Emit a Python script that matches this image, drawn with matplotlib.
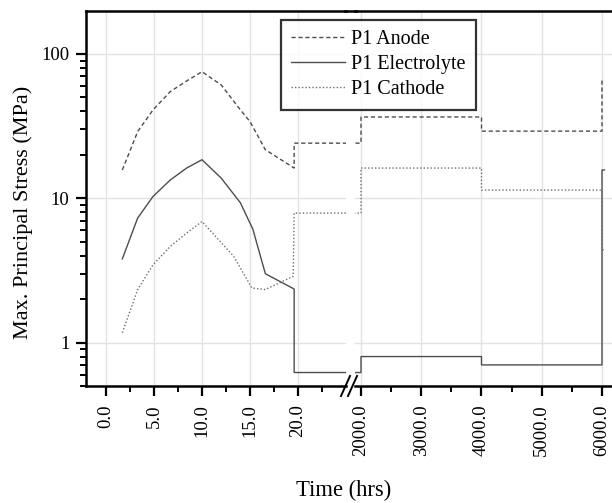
import matplotlib
matplotlib.use("Agg")
import matplotlib.pyplot as plt
from matplotlib.lines import Line2D
from matplotlib.ticker import FixedLocator, LogLocator, NullFormatter, FuncFormatter

plt.rcParams['font.family'] = ['Liberation Serif', 'DejaVu Serif']
plt.rcParams['font.size'] = 13.5

# Time (hrs) and maximum principal stress (MPa) for each layer.
# Repeated times mark the vertical steps of the long-term history.
anode_time = [1.7, 3.3, 4.9, 6.7, 8.4, 10.0, 12.0, 14.0, 15.0, 16.6, 19.6, 19.6,
              2000, 2000, 4000, 4000, 6000, 6000, 6040]
anode_value = [15.7, 29.0, 41.0, 54.9, 65.0, 75.4, 61.0, 41.0, 34.0, 21.7, 16.2, 24.1,
               24.1, 36.6, 36.6, 29.2, 29.2, 66.0, 66.0]

electrolyte_time = [1.7, 3.3, 4.9, 6.7, 8.4, 10.0, 12.0, 14.0, 15.3, 16.6, 19.6, 19.6,
                    2000, 2000, 4000, 4000, 6000, 6000, 6040]
electrolyte_value = [3.8, 7.3, 10.3, 13.4, 16.2, 18.5, 13.8, 9.3, 6.1, 3.0, 2.35, 0.62,
                     0.62, 0.80, 0.80, 0.70, 0.70, 15.7, 15.7]

cathode_time = [1.7, 3.3, 4.9, 6.7, 8.4, 10.0, 13.3, 15.2, 16.6, 19.5, 19.6,
                2000, 2000, 4000, 4000, 6000, 6000, 6040]
cathode_value = [1.17, 2.33, 3.46, 4.64, 5.74, 6.9, 3.96, 2.39, 2.33, 2.88, 7.9,
                 7.9, 16.2, 16.2, 11.4, 11.4, 4.4, 4.4]

left_ticks = [0.0, 5.0, 10.0, 15.0, 20.0]
right_ticks = [2000.0, 3000.0, 4000.0, 5000.0, 6000.0]
y_ticks = [1, 10, 100]

series = [
    ("P1 Anode", anode_time, anode_value, dict(color="#4d4d4d", linestyle=(0, (3.0, 2.0)))),
    ("P1 Electrolyte", electrolyte_time, electrolyte_value, dict(color="#4d4d4d", linestyle="-")),
    ("P1 Cathode", cathode_time, cathode_value, dict(color="#6e6e6e", linestyle=(0, (1.0, 1.5)))),
]

W, H = 612, 503
fig = plt.figure(figsize=(W / 100, H / 100), dpi=100)

def fx(px):
    return px / W

def fy(py):
    return 1 - py / H

x_left, x_split_l, x_split_r, x_right = 86, 346, 355, 612
y_top, y_bot = 11, 386

ax_l = fig.add_axes([fx(x_left), fy(y_bot), fx(x_split_l - x_left), (y_bot - y_top) / H])
ax_r = fig.add_axes([fx(x_split_r), fy(y_bot), fx(x_right - x_split_r), (y_bot - y_top) / H],
                    sharey=ax_l)

ax_l.set_xlim(-2.083, 25.0)
ax_r.set_xlim(1900.4, 6166.0)
ax_l.set_yscale("log")
ax_l.set_ylim(0.5, 198.6)

for ax in (ax_l, ax_r):
    for label, t, v, style in series:
        ax.plot(t, v, linewidth=1.0, label=label, **style)
    ax.grid(True, which="major", color="#e2e2e2", linewidth=1.0)
    ax.set_axisbelow(True)
    for s in ax.spines.values():
        s.set_linewidth(1.8)
    ax.tick_params(which="major", direction="out", length=7, width=1.6, pad=5)
    ax.tick_params(which="minor", direction="out", length=4, width=1.4)
    ax.tick_params(axis="x", labelrotation=90, pad=6)

ax_l.xaxis.set_major_locator(FixedLocator(left_ticks))
ax_l.xaxis.set_minor_locator(FixedLocator([2.5, 7.5, 12.5, 17.5, 22.5]))
ax_r.xaxis.set_major_locator(FixedLocator(right_ticks))
ax_r.xaxis.set_minor_locator(FixedLocator([2500, 3500, 4500, 5500]))
fmt = FuncFormatter(lambda v, p: f"{v:.1f}")
ax_l.xaxis.set_major_formatter(fmt)
ax_r.xaxis.set_major_formatter(fmt)

ax_l.yaxis.set_major_locator(FixedLocator(y_ticks))
ax_l.yaxis.set_major_formatter(FuncFormatter(lambda v, p: f"{v:g}"))
ax_l.yaxis.set_minor_locator(LogLocator(base=10, subs=range(2, 10)))
ax_l.yaxis.set_minor_formatter(NullFormatter())

ax_l.spines["right"].set_visible(False)
ax_r.spines["left"].set_visible(False)
ax_r.spines["right"].set_visible(False)
ax_r.tick_params(axis="y", which="both", left=False, labelleft=False)

# close the top frame across the break and draw the // marks on the time axis
fig.add_artist(Line2D([fx(x_split_l - 1), fx(x_split_r + 1)], [fy(y_top), fy(y_top)],
                      color="black", linewidth=1.8))
for dx in (0, 7):
    fig.add_artist(Line2D([fx(341 + dx), fx(350 + dx)], [fy(396), fy(376)],
                          color="black", linewidth=1.4))

fig.text(fx(23), fy(212), "Max. Principal Stress (MPa)", rotation=90,
         ha="center", va="center", fontsize=16)
fig.text(fx(344), fy(490), "Time (hrs)", ha="center", va="center", fontsize=16.3)

handles, labels = ax_l.get_legend_handles_labels()
leg = fig.legend(handles, labels, loc="upper left", bbox_to_anchor=(fx(281), fy(20)),
                 bbox_transform=fig.transFigure, frameon=True, fancybox=False,
                 borderaxespad=0, borderpad=0.5, handlelength=2.7, handletextpad=0.3,
                 labelspacing=0.3, fontsize=14.5)
leg.get_frame().set_edgecolor("black")
leg.get_frame().set_linewidth(1.6)

fig.savefig("out.png", dpi=100)
